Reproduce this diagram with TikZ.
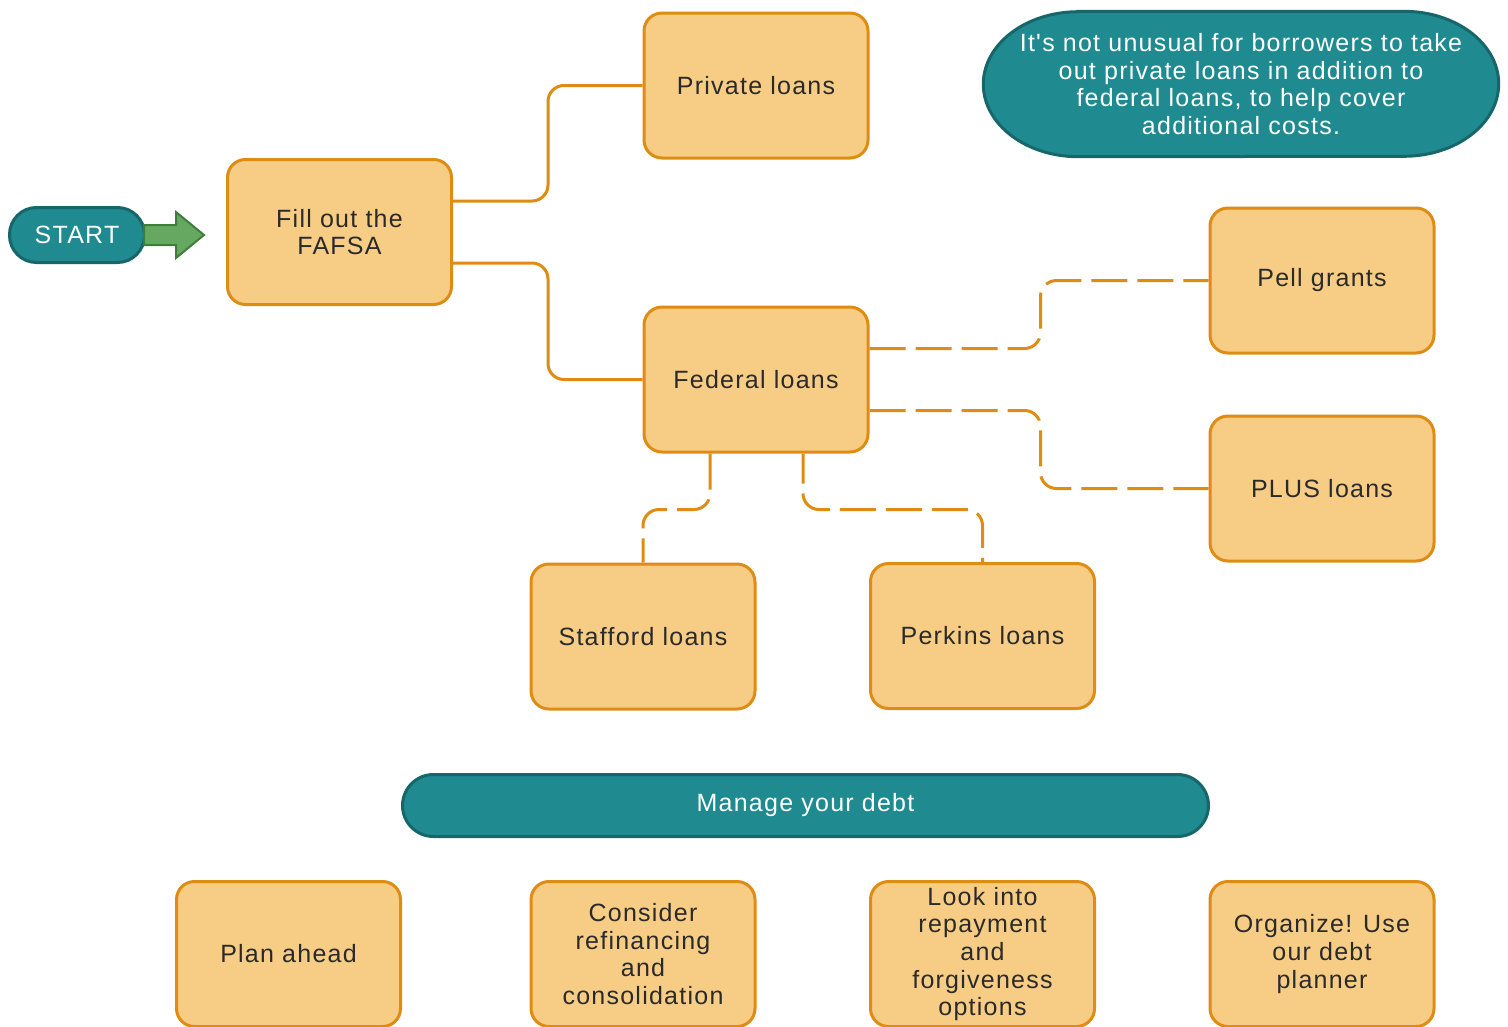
\documentclass[tikz,border=0pt]{standalone}
\usepackage{fontspec}
\setmainfont{Liberation Sans}[LetterSpace=5]
\newfontfamily\plainsans{Liberation Sans}[LetterSpace=5]
\usetikzlibrary{calc,backgrounds}
\definecolor{boxfill}{HTML}{F7CD85}
\definecolor{boxdraw}{HTML}{DE8C13}
\definecolor{txtdark}{HTML}{2A2A2A}
\definecolor{tealfill}{HTML}{1F8A8F}
\definecolor{tealdraw}{HTML}{17666A}
\definecolor{grfill}{HTML}{66A862}
\definecolor{grdraw}{HTML}{3F7D3B}
\begin{document}
\begin{tikzpicture}[x=1pt,y=-1pt,
  box/.style={draw=boxdraw, fill=boxfill, line width=3pt, rounded corners=18pt,
    minimum width=224pt, minimum height=145pt, align=center, text=txtdark,
    font=\fontsize{25}{27.7}\selectfont, inner sep=0pt},
  pill/.style={draw=tealdraw, fill=tealfill, line width=3pt, align=center,
    text=white, font=\fontsize{25}{27.7}\selectfont, inner sep=0pt},
  pilltext/.style={align=center, text=white, font=\plainsans\fontsize{25}{27.7}\selectfont, inner sep=0pt},
  pillshape/.style={draw=tealdraw, fill=tealfill, line width=3pt},
  conn/.style={draw=boxdraw, line width=3pt, rounded corners=16pt},
  dconn/.style={conn, dash pattern=on 36pt off 10pt},
  arrowst/.style={draw=grdraw, fill=grfill, line width=2pt, line join=miter}]
\useasboundingbox (0,0) rectangle (1508,1026);
\clip (0,0) rectangle (1508,1026);
% nodes
\node[box] (fafsa) at (339.5,232) {Fill out the\\FAFSA};
\node[box] (private) at (756,85.5) {Private loans};
\node[box] (federal) at (756,379.5) {Federal loans};
\node[box] (pell) at (1322,280.5) {Pell grants};
\node[box] (plus) at (1322,488.5) {PLUS loans};
\node[box] (stafford) at (643,636.5) {Stafford loans};
\node[box] (perkins) at (982.5,636) {Perkins loans};
\node[box] (plan) at (288.5,954) {Plan ahead};
\node[box] (consider) at (643,954) {Consider\\refinancing\\and\\consolidation};
\node[box] (lookinto) at (982.5,954) {Look into\\repayment\\and\\forgiveness\\options};
\node[box] (organize) at (1322,954) {Organize! Use\\our debt\\planner};
\node[pilltext, minimum width=515pt, minimum height=145pt] (note) at (1241,84)
  {It's not unusual for borrowers to take\\out private loans in addition to\\federal loans, to help cover\\additional costs.};
\begin{scope}[on background layer]
\draw[pillshape] ($(note.north west)+(95,0)$) -- ($(note.north east)+(-95,0)$)
  arc[start angle=-90, end angle=90, x radius=95, y radius=72.5]
  -- ($(note.south west)+(95,0)$)
  arc[start angle=90, end angle=270, x radius=95, y radius=72.5] -- cycle;
\end{scope}
\node[pill, rounded corners=31pt, minimum width=806pt, minimum height=62pt] (manage) at (805.5,805.5) {Manage your debt};
% start arrow
\node[pill, rounded corners=27pt, minimum width=135pt, minimum height=55pt] (start) at (77,235) {START};
\draw[arrowst] ($(start.east)+(-2,-10)$) -- ++(32,0) -- ++(0,-13) -- ++(28,23) -- ++(-28,23) -- ++(0,-13) -- ++(-32,0) -- cycle;
% connectors
\draw[conn] ($(fafsa.east)+(0,-31)$) -- ++(95,0) |- (private.west);
\draw[conn] ($(fafsa.east)+(0,31)$) -- ++(95,0) |- (federal.west);
\draw[dconn] ($(federal.east)+(0,-31)$) -- ++(171,0) |- (pell.west);
\draw[dconn] ($(federal.east)+(0,31)$) -- ++(171,0) |- (plus.west);
\draw[dconn] ($(federal.south)+(-46,0)$) -- ++(0,56) -| (stafford.north);
\draw[dconn, dash phase=6pt] ($(federal.south)+(47,0)$) -- ++(0,56) -| (perkins.north);
\end{tikzpicture}
\end{document}
